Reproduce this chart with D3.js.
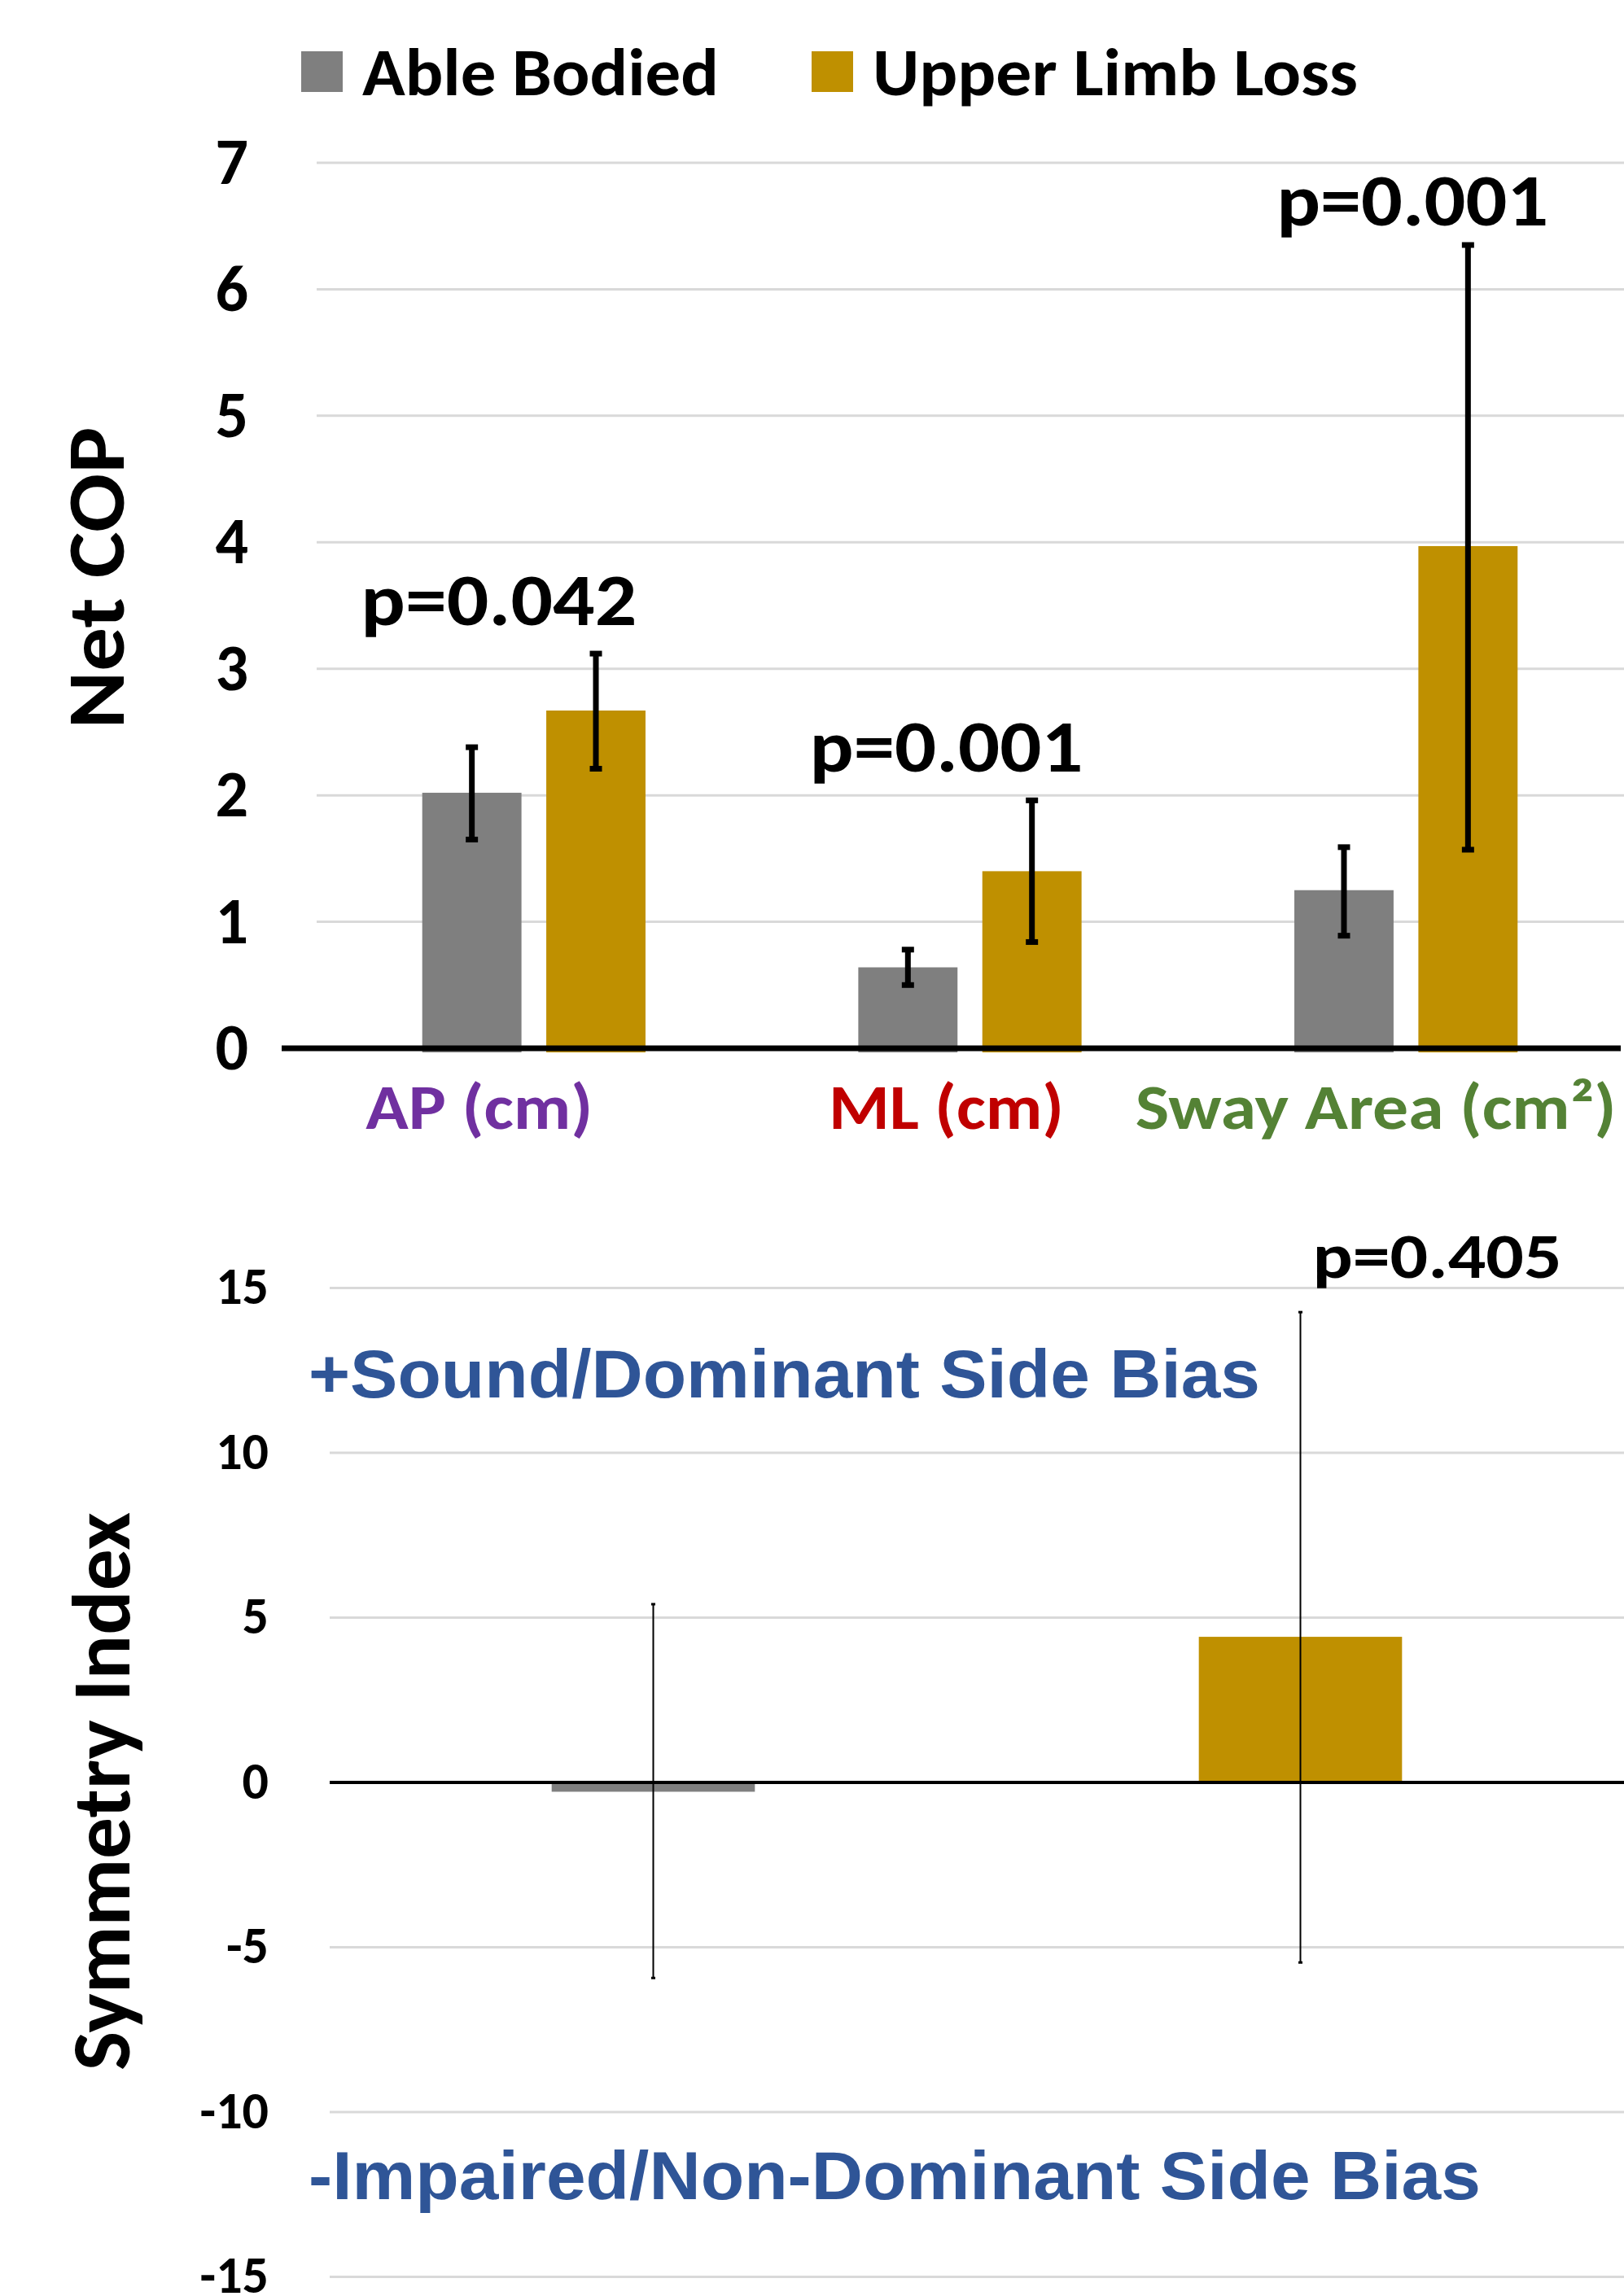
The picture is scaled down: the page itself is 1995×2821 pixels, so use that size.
<!DOCTYPE html>
<html>
<head>
<meta charset="utf-8">
<script src="https://cdn.jsdelivr.net/npm/d3@7"></script>
<style>
  body { margin: 0; background: #fff; }
  svg { display: block; }
  .calib { font-family: Carlito, Lato, "Open Sans", sans-serif; font-weight: 700; }
  .arialb { font-family: "Liberation Sans", Arial, sans-serif; font-weight: 700; }
</style>
</head>
<body>
<div id="chart-area"></div>
<script>
// ---- data ----
const categories = ["AP (cm)", "ML (cm)", "Sway Area (cm²)"];
const groups = ["Able Bodied", "Upper Limb Loss"];

const ableValues = [2.02, 0.64, 1.25];
const ableLow    = [1.65, 0.50, 0.89];
const ableHigh   = [2.38, 0.78, 1.59];

const limbValues = [2.67, 1.40, 3.97];
const limbLow    = [2.21, 0.84, 1.57];
const limbHigh   = [3.12, 1.96, 6.35];

const pLabels = ["p=0.042", "p=0.001", "p=0.001"];
const netTicks = [0, 1, 2, 3, 4, 5, 6, 7];

const symValues = [-0.28, 4.42];
const symLow    = [-5.93, -5.46];
const symHigh   = [5.41, 14.27];
const symP = "p=0.405";
const symTicks = [-15, -10, -5, 0, 5, 10, 15];

const colors = {"Able Bodied": "#7f7f7f", "Upper Limb Loss": "#bf9000"};
const catColors = ["#7030a0", "#c00000", "#548235"];

let svg = d3.select("#chart-area").append("svg")
    .attr("width", 1995)
    .attr("height", 2821);

// ================= TOP CHART =================
let upper = {left: 388, right: 1995, top: 200, bottom: 1288};

let x0 = d3.scaleBand()
    .domain(categories)
    .range([upper.left, upper.right])
    .paddingInner(0.488)
    .paddingOuter(0.244);

let x1 = d3.scaleBand()
    .domain(groups)
    .range([0, x0.bandwidth()])
    .paddingInner(0.2);

let y = d3.scaleLinear()
    .domain([0, 7])
    .range([upper.bottom, upper.top]);

// gridlines
svg.append("g").selectAll("line")
    .data(netTicks.filter(d => d > 0))
    .enter().append("line")
    .attr("x1", upper.left + 1).attr("x2", upper.right)
    .attr("y1", d => y(d)).attr("y2", d => y(d))
    .attr("stroke", "#d9d9d9").attr("stroke-width", 3);

// y axis labels
let yAxis = svg.append("g")
    .attr("class", "calib")
    .attr("transform", "translate(305,0)")
    .call(d3.axisLeft(y).tickValues(netTicks).tickFormat(d => String(d)).tickSize(0).tickPadding(0));
yAxis.select(".domain").remove();
yAxis.attr("font-family", null).attr("font-size", null);
yAxis.selectAll("text")
    .attr("font-size", 80)
    .attr("fill", "#000")
    .attr("dy", "0.32em");

// rows
let rows = categories.map((c, i) => ({
    cat: c,
    bars: [
        {g: groups[0], v: ableValues[i], lo: ableLow[i], hi: ableHigh[i]},
        {g: groups[1], v: limbValues[i], lo: limbLow[i], hi: limbHigh[i]}
    ]
}));

let groupSel = svg.append("g").selectAll("g")
    .data(rows)
    .enter().append("g")
    .attr("transform", d => `translate(${x0(d.cat)},0)`);

groupSel.selectAll("rect")
    .data(d => d.bars)
    .enter().append("rect")
    .attr("x", d => x1(d.g))
    .attr("y", d => y(d.v))
    .attr("width", x1.bandwidth())
    .attr("height", d => y(0) - y(d.v) + 5)
    .attr("fill", d => colors[d.g]);

// zero axis line
svg.append("line")
    .attr("x1", 346).attr("x2", 1991)
    .attr("y1", y(0)).attr("y2", y(0))
    .attr("stroke", "#000").attr("stroke-width", 7);

// error bars
let err = groupSel.selectAll("g.err")
    .data(d => d.bars)
    .enter().append("g")
    .attr("class", "err")
    .attr("transform", d => `translate(${x1(d.g) + x1.bandwidth() / 2},0)`);
err.append("line")
    .attr("y1", d => y(d.lo)).attr("y2", d => y(d.hi))
    .attr("stroke", "#000").attr("stroke-width", 7);
err.append("line")
    .attr("x1", -7.5).attr("x2", 7.5)
    .attr("y1", d => y(d.hi)).attr("y2", d => y(d.hi))
    .attr("stroke", "#000").attr("stroke-width", 7);
err.append("line")
    .attr("x1", -7.5).attr("x2", 7.5)
    .attr("y1", d => y(d.lo)).attr("y2", d => y(d.lo))
    .attr("stroke", "#000").attr("stroke-width", 7);

// p-values (text boxes sit a little off the group centre)
let pLen = [339, 336, 334];
let pShift = [-43, -29, 8];
let pRaise = [35, 35, 24];
svg.append("g").selectAll("text")
    .data(rows)
    .enter().append("text")
    .attr("class", "calib")
    .attr("x", (d, i) => x0(d.cat) + x0.bandwidth() / 2 + pShift[i])
    .attr("y", (d, i) => y(d3.max(d.bars, b => b.hi)) - pRaise[i])
    .attr("text-anchor", "middle")
    .attr("font-size", 92)
    .attr("textLength", (d, i) => pLen[i])
    .attr("lengthAdjust", "spacingAndGlyphs")
    .text((d, i) => pLabels[i]);

// category labels
let catLen = [279, 289, 591];
let catShift = [-67, -29, -37];
svg.append("g").selectAll("text")
    .data(categories)
    .enter().append("text")
    .attr("class", "calib")
    .attr("x", (d, i) => x0(d) + x0.bandwidth() / 2 + catShift[i])
    .attr("y", y(0) + 99)
    .attr("text-anchor", "middle")
    .attr("font-size", 78)
    .attr("fill", (d, i) => catColors[i])
    .attr("textLength", (d, i) => catLen[i])
    .attr("lengthAdjust", "spacingAndGlyphs")
    .text(d => d);

// y title
svg.append("text")
    .attr("class", "calib")
    .attr("transform", "translate(152,710) rotate(-90)")
    .attr("text-anchor", "middle")
    .attr("font-size", 100)
    .attr("textLength", 371)
    .attr("lengthAdjust", "spacingAndGlyphs")
    .text("Net COP");

// legend
let legendX = [370, 997];
let legendLen = [438, 596];
let legend = svg.append("g").selectAll("g")
    .data(groups)
    .enter().append("g")
    .attr("transform", (d, i) => `translate(${legendX[i]},0)`);
legend.append("rect")
    .attr("y", 63).attr("width", 51).attr("height", 50)
    .attr("fill", d => colors[d]);
legend.append("text")
    .attr("class", "calib")
    .attr("x", 75).attr("y", 117)
    .attr("font-size", 82)
    .attr("textLength", (d, i) => legendLen[i])
    .attr("lengthAdjust", "spacingAndGlyphs")
    .text(d => d);

// ================= BOTTOM CHART =================
let lower = {left: 405, right: 1995, top: 1582.6, bottom: 2797.6};

let xs = d3.scaleBand()
    .domain(groups)
    .range([lower.left, lower.right])
    .paddingInner(0.686)
    .paddingOuter(0.343);

let ys = d3.scaleLinear()
    .domain([-15, 15])
    .range([lower.bottom, lower.top]);

svg.append("g").selectAll("line")
    .data(symTicks.filter(d => d !== 0))
    .enter().append("line")
    .attr("x1", lower.left).attr("x2", lower.right)
    .attr("y1", d => ys(d)).attr("y2", d => ys(d))
    .attr("stroke", "#d9d9d9").attr("stroke-width", 3);

let ysAxis = svg.append("g")
    .attr("class", "calib")
    .attr("transform", "translate(330,0)")
    .call(d3.axisLeft(ys).tickValues(symTicks).tickFormat(d => String(d)).tickSize(0).tickPadding(0));
ysAxis.select(".domain").remove();
ysAxis.attr("font-family", null).attr("font-size", null);
ysAxis.selectAll("text")
    .attr("font-size", 64)
    .attr("fill", "#000")
    .attr("dy", "0.3em");

let symRows = groups.map((g, i) => ({g: g, v: symValues[i], lo: symLow[i], hi: symHigh[i]}));

svg.append("g").selectAll("rect")
    .data(symRows)
    .enter().append("rect")
    .attr("x", d => xs(d.g))
    .attr("y", d => ys(Math.max(0, d.v)))
    .attr("width", xs.bandwidth())
    .attr("height", d => Math.abs(ys(d.v) - ys(0)))
    .attr("fill", d => colors[d.g]);

svg.append("line")
    .attr("x1", lower.left).attr("x2", lower.right)
    .attr("y1", ys(0)).attr("y2", ys(0))
    .attr("stroke", "#000").attr("stroke-width", 4);

let serr = svg.append("g").selectAll("g")
    .data(symRows)
    .enter().append("g")
    .attr("transform", d => `translate(${xs(d.g) + xs.bandwidth() / 2},0)`);
serr.append("line")
    .attr("y1", d => ys(d.lo)).attr("y2", d => ys(d.hi))
    .attr("stroke", "#000").attr("stroke-width", 2);
serr.append("line")
    .attr("x1", -2.5).attr("x2", 2.5)
    .attr("y1", d => ys(d.hi)).attr("y2", d => ys(d.hi))
    .attr("stroke", "#000").attr("stroke-width", 3);
serr.append("line")
    .attr("x1", -2.5).attr("x2", 2.5)
    .attr("y1", d => ys(d.lo)).attr("y2", d => ys(d.lo))
    .attr("stroke", "#000").attr("stroke-width", 3);

// p-value bottom
svg.append("text")
    .attr("class", "calib")
    .attr("x", xs(groups[1]) + xs.bandwidth() / 2 + 15)
    .attr("y", ys(symHigh[1]) - 42)
    .attr("font-size", 78)
    .attr("textLength", 306)
    .attr("lengthAdjust", "spacingAndGlyphs")
    .text(symP);

// bias notes
svg.append("text")
    .attr("class", "arialb")
    .attr("x", 379).attr("y", 1717)
    .attr("font-size", 83)
    .attr("fill", "#2f5597")
    .attr("textLength", 1169)
    .attr("lengthAdjust", "spacingAndGlyphs")
    .text("+Sound/Dominant Side Bias");
svg.append("text")
    .attr("class", "arialb")
    .attr("x", 379).attr("y", 2702)
    .attr("font-size", 83)
    .attr("fill", "#2f5597")
    .attr("textLength", 1440)
    .attr("lengthAdjust", "spacingAndGlyphs")
    .text("-Impaired/Non-Dominant Side Bias");

// y title bottom
svg.append("text")
    .attr("class", "calib")
    .attr("transform", "translate(159,2201) rotate(-90)")
    .attr("text-anchor", "middle")
    .attr("font-size", 102)
    .attr("textLength", 686)
    .attr("lengthAdjust", "spacingAndGlyphs")
    .text("Symmetry Index");
</script>
</body>
</html>
